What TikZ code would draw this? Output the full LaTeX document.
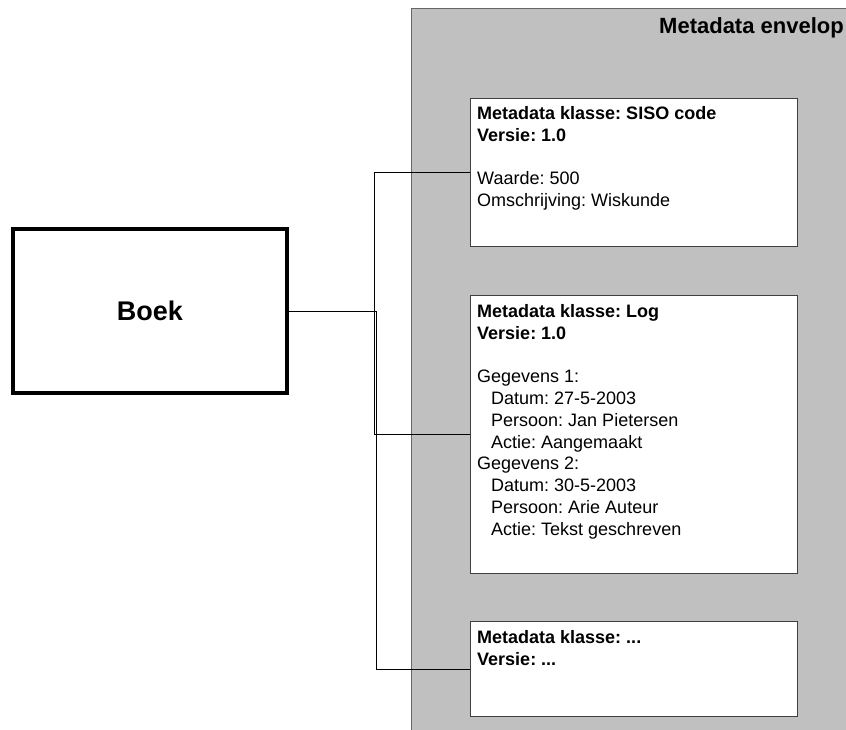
\documentclass[tikz,border=0pt]{standalone}
\usepackage{fontspec}
\setmainfont{Liberation Sans}
\definecolor{envgray}{RGB}{192,192,192}
\frenchspacing
\begin{document}
\begin{tikzpicture}[x=1pt,y=-1pt,
  card/.style={rectangle, draw=black!75, fill=white, line width=1.2pt, minimum width=327pt, inner sep=0pt, anchor=north west},
  cardtext/.style={anchor=north west, inner sep=0pt, align=left, font=\frenchspacing\fontsize{18}{21.8}\selectfont},
  wire/.style={draw=black, line width=1pt}]
\useasboundingbox (0,0) rectangle (846,729);
\clip (0,0) rectangle (846,729);
\fill[white] (0,0) rectangle (846,729);
% envelope
\node[rectangle, draw=black!60, fill=envgray, line width=1.2pt, anchor=north west, minimum width=500pt, minimum height=800pt, inner sep=0pt] (env) at (411,8) {};
\node[anchor=base west, inner sep=0pt, font=\bfseries\fontsize{22}{26}\selectfont] (title) at (659,33) {Metadata envelop};
% cards
\node[card, minimum height=148pt] (c1) at (470,98) {};
\node[card, minimum height=278pt] (c2) at (470,295) {};
\node[card, minimum height=95pt] (c3) at (470,621) {};
\node[cardtext] (t1) at (477,106) {\textbf{Metadata klasse: SISO code}\\ \textbf{Versie: 1.0}\\ \\ Waarde: 500\\ Omschrijving: Wiskunde};
\node[cardtext] (t2) at (477,304) {\textbf{Metadata klasse: Log}\\ \textbf{Versie: 1.0}\\ \\ Gegevens 1:\\ \hspace*{14pt}Datum: 27-5-2003\\ \hspace*{14pt}Persoon: Jan Pietersen\\ \hspace*{14pt}Actie: Aangemaakt\\ Gegevens 2:\\ \hspace*{14pt}Datum: 30-5-2003\\ \hspace*{14pt}Persoon: Arie Auteur\\ \hspace*{14pt}Actie: Tekst geschreven};
\node[cardtext] (t3) at (477,630) {\textbf{Metadata klasse: ...}\\ \textbf{Versie: ...}};
% book
\node[rectangle, draw=black, fill=white, line width=4pt, minimum width=274pt, minimum height=164pt, inner sep=0pt, font=\bfseries\fontsize{27}{32}\selectfont] (boek) at (150,311) {Boek};
% connectors
\coordinate (j1) at (374,311);
\coordinate (j2) at (376,311);
\draw[wire] (boek.east) -- (j1) |- (c1.west);
\draw[wire] (j1) |- (c2.west);
\draw[wire] (boek.east) -- (j2) |- (c3.west);
\end{tikzpicture}
\end{document}
